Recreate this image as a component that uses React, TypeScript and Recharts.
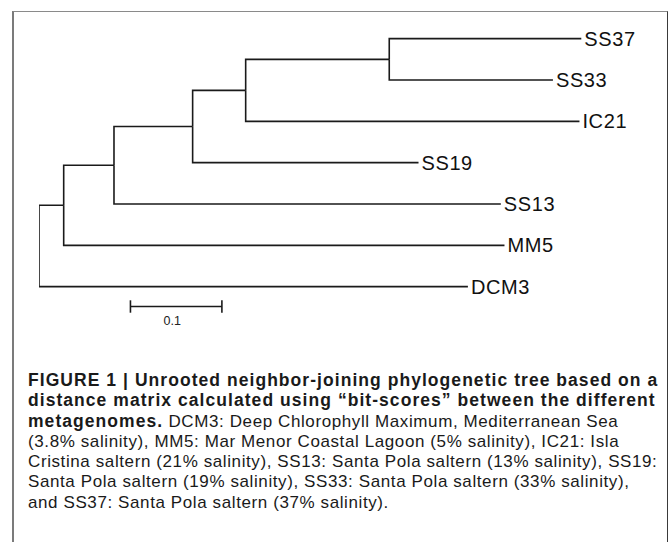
import { Scatter, ScatterChart, XAxis, YAxis } from "recharts";

// leaves, top to bottom, with their distance from the root
const leafNames = ["SS37", "SS33", "IC21", "SS19", "SS13", "MM5", "DCM3"];
const leafDepths = [0.593, 0.562, 0.591, 0.415, 0.505, 0.509, 0.469];

// internal nodes and their children
const nodeNames = ["root", "n1", "n2", "n3", "n4", "n5"];
const nodeDepths = [0, 0.027, 0.082, 0.168, 0.226, 0.383];
const nodeChildren = [
  ["n1", "DCM3"],
  ["n2", "MM5"],
  ["n3", "SS13"],
  ["n4", "SS19"],
  ["n5", "IC21"],
  ["SS37", "SS33"],
];

const scaleBarStart = 0.1;
const scaleBarLength = 0.1;
const scaleBarLabel = "0.1";

const captionBold = [
  "FIGURE 1 | Unrooted neighbor-joining phylogenetic tree based on a",
  "distance matrix calculated using \u201cbit-scores\u201d between the different",
  "metagenomes.",
];
const captionLines = [
  " DCM3: Deep Chlorophyll Maximum, Mediterranean Sea",
  "(3.8% salinity), MM5: Mar Menor Coastal Lagoon (5% salinity), IC21: Isla",
  "Cristina saltern (21% salinity), SS13: Santa Pola saltern (13% salinity), SS19:",
  "Santa Pola saltern (19% salinity), SS33: Santa Pola saltern (33% salinity),",
  "and SS37: Santa Pola saltern (37% salinity).",
];

const depthOf = (name: string): number => {
  const li = leafNames.indexOf(name);
  if (li >= 0) return leafDepths[li];
  return nodeDepths[nodeNames.indexOf(name)];
};

const rowOf = (name: string): number => {
  const li = leafNames.indexOf(name);
  if (li >= 0) return li;
  const kids = nodeChildren[nodeNames.indexOf(name)];
  return (rowOf(kids[0]) + rowOf(kids[kids.length - 1])) / 2;
};

const elbows = nodeNames.flatMap((node, i) =>
  nodeChildren[i].map((child) => [
    { x: nodeDepths[i], y: rowOf(node) },
    { x: nodeDepths[i], y: rowOf(child) },
    { x: depthOf(child), y: rowOf(child) },
  ])
);

const leafPoints = leafNames.map((name, i) => ({ x: leafDepths[i], y: i, name }));

const barRow = 6.48;
const scaleBar = [
  { x: scaleBarStart, y: barRow },
  { x: scaleBarStart + scaleBarLength, y: barRow },
];
const barTicks = [scaleBarStart, scaleBarStart + scaleBarLength].map((x) => [
  { x, y: barRow - 0.15 },
  { x, y: barRow + 0.15 },
]);
const barText = [{ x: scaleBarStart + scaleBarLength / 2, y: 6.84, name: scaleBarLabel }];

const noDot = () => <g />;
const LINE = { stroke: "#1a1a1a", strokeWidth: 1.6 };

export default function App() {
  return (
    <div
      style={{
        position: "absolute",
        left: 0,
        top: 0,
        width: 671,
        height: 542,
        overflow: "hidden",
        background: "#fff",
        fontFamily: "'Liberation Sans', Arial, sans-serif",
      }}
    >
      <div
        style={{
          position: "absolute",
          left: 12,
          top: 11,
          width: 653,
          height: 560,
          borderLeft: "2px solid #7b7b7b",
          borderTop: "1px solid #8a8a8a",
          borderRight: "1px solid #3a3a3a",
        }}
      />
      <div style={{ position: "absolute", left: 0, top: 0 }}>
        <ScatterChart
          width={671}
          height={340}
          margin={{ top: 18, right: 1, bottom: 12, left: 39 }}
        >
          <XAxis type="number" dataKey="x" domain={[0, 0.69]} allowDataOverflow hide />
          <YAxis type="number" dataKey="y" domain={[-0.5, 7]} reversed allowDataOverflow hide />
          {elbows.map((pts, i) => (
            <Scatter
              key={`b${i}`}
              data={pts}
              line={{ ...LINE, strokeLinejoin: "miter" }}
              shape={noDot}
              isAnimationActive={false}
            />
          ))}
          <Scatter data={scaleBar} line={LINE} shape={noDot} isAnimationActive={false} />
          {barTicks.map((pts, i) => (
            <Scatter key={`t${i}`} data={pts} line={LINE} shape={noDot} isAnimationActive={false} />
          ))}
          <Scatter
            data={leafPoints}
            isAnimationActive={false}
            shape={(p: any) => (
              <text
                x={p.cx + 3}
                y={p.cy}
                dominantBaseline="central"
                fontSize={20}
                letterSpacing={0.6}
                fill="#111"
                fontFamily="'Liberation Sans', Arial, sans-serif"
              >
                {p.payload.name}
              </text>
            )}
          />
          <Scatter
            data={barText}
            isAnimationActive={false}
            shape={(p: any) => (
              <text
                x={p.cx - 4}
                y={p.cy}
                dominantBaseline="central"
                textAnchor="middle"
                fontSize={12.5}
                fill="#222"
                fontFamily="'Liberation Sans', Arial, sans-serif"
              >
                {p.payload.name}
              </text>
            )}
          />
        </ScatterChart>
      </div>
      <div
        style={{
          position: "absolute",
          left: 28,
          top: 370,
          width: 640,
          fontSize: 17,
          letterSpacing: 0.6,
          lineHeight: "20.3px",
          color: "#1a1a1a",
          whiteSpace: "nowrap",
        }}
      >
        <div style={{ fontWeight: "bold", fontSize: 17.5, letterSpacing: 1.05 }}>{captionBold[0]}</div>
        <div style={{ fontWeight: "bold", fontSize: 17.5, letterSpacing: 1.05 }}>{captionBold[1]}</div>
        <div>
          <span style={{ fontWeight: "bold", fontSize: 17.5, letterSpacing: 1.05 }}>{captionBold[2]}</span>
          {captionLines[0]}
        </div>
        {captionLines.slice(1).map((line, i) => (
          <div key={i}>{line}</div>
        ))}
      </div>
    </div>
  );
}
